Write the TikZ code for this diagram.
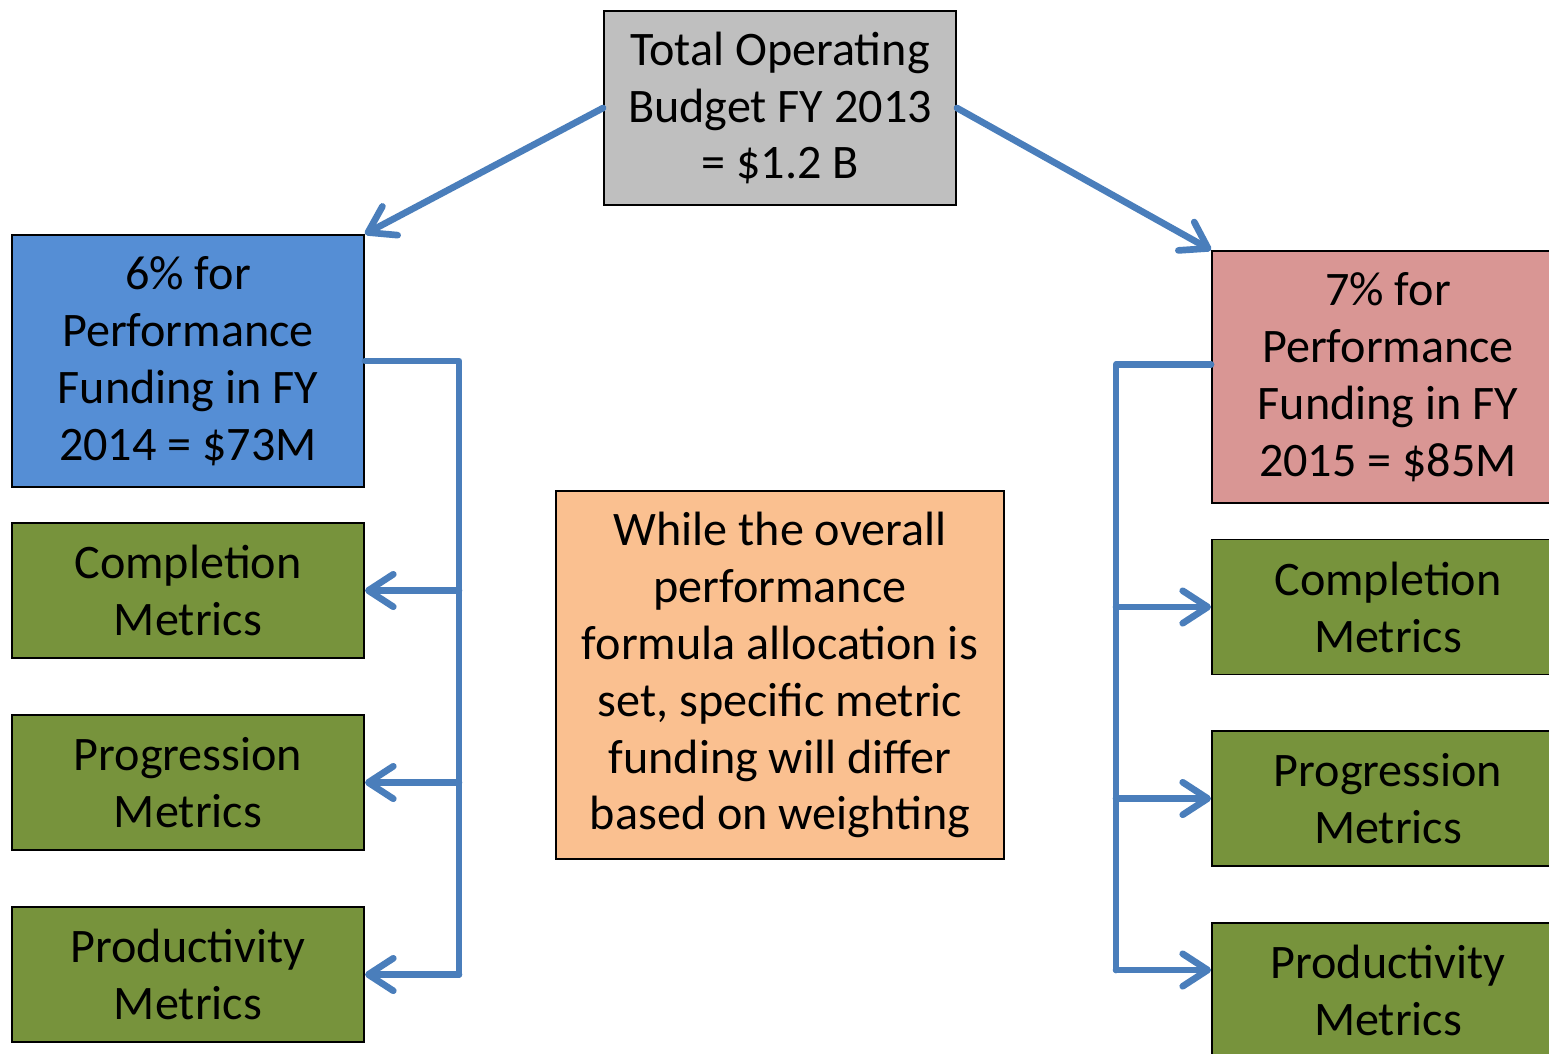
\documentclass[tikz,border=0pt]{standalone}
\usepackage{fontspec}
\setmainfont{Carlito}
\usetikzlibrary{arrows.meta}
\definecolor{topgray}{HTML}{BFBFBF}
\definecolor{perfblue}{HTML}{558ED5}
\definecolor{perfpink}{HTML}{D99694}
\definecolor{metricgreen}{HTML}{77933C}
\definecolor{noteorange}{HTML}{FAC090}
\definecolor{linkblue}{HTML}{4A7EBB}

\tikzset{
  box/.style={draw=black, line width=1.1pt, align=center, inner sep=0pt,
    font=\fontsize{27.4}{32.4}\selectfont, minimum width=7.04cm},
  metric/.style={box, fill=metricgreen, minimum height=2.7cm},
  link/.style={draw=linkblue, line width=3.8pt, line cap=round, line join=round},
  arr/.style={link, -{Straight Barb[length=0.5cm, width=0.65cm, round]}}
}

\begin{document}
\begin{tikzpicture}
		%%%%% START %%%%%
		\useasboundingbox (0, 0) rectangle (30.98, -21.06);
		\clip (0, 0) rectangle (30.98, -21.06);
		
		\node[box, fill=topgray, minimum height=3.88cm] (top) at (15.6, -2.16) {Total Operating\\Budget FY 2013\\= \$1.2 B};
		
		\node[box, fill=perfblue, minimum height=5.04cm] (perf14) at (3.76, -7.22) {6\% for\\Performance\\Funding in FY\\2014 = \$73M};
		\node[box, fill=perfpink, minimum height=5.04cm] (perf15) at (27.76, -7.54) {7\% for\\Performance\\Funding in FY\\2015 = \$85M};
		
		\node[metric] (comp14) at (3.76, -11.81) {Completion\\Metrics};
		\node[metric] (prog14) at (3.76, -15.65) {Progression\\Metrics};
		\node[metric] (prod14) at (3.76, -19.49) {Productivity\\Metrics};
		
		\node[metric] (comp15) at (27.76, -12.14) {Completion\\Metrics};
		\node[metric] (prog15) at (27.76, -15.97) {Progression\\Metrics};
		\node[metric] (prod15) at (27.76, -19.81) {Productivity\\Metrics};
		
		\node[box, fill=noteorange, minimum width=8.96cm, minimum height=7.36cm] (note) at (15.6, -13.5) {While the overall\\performance\\formula allocation is\\set, specific metric\\funding will differ\\based on weighting};
		
		% from the budget down to the two years
		\draw[arr] (top.west) -- (perf14.north east);
		\draw[arr] (top.east) -- (perf15.north west);
		
		% left bracket
		\coordinate (trunkL) at (9.18, 0);
		\draw[link] (perf14.east) -- (perf14.east -| trunkL) -- (prod14.east -| trunkL);
		\foreach \m in {comp14, prog14, prod14}
			\draw[arr] (\m.east -| trunkL) -- (\m.east);
		
		% right bracket
		\coordinate (trunkR) at (22.32, 0);
		\coordinate (joinR) at ([yshift=0.25cm]perf15.west);
		\coordinate (endR) at (22.32, -19.4);
		\draw[link] (joinR) -- (joinR -| trunkR) -- (endR);
		\draw[arr] (trunkR |- comp15.west) -- (comp15.west);
		\draw[arr] (trunkR |- prog15.west) -- (prog15.west);
		\draw[arr] (endR) -- (endR -| prod15.west);
		
		%%%%% END %%%%%
	\end{tikzpicture}
\end{document}
